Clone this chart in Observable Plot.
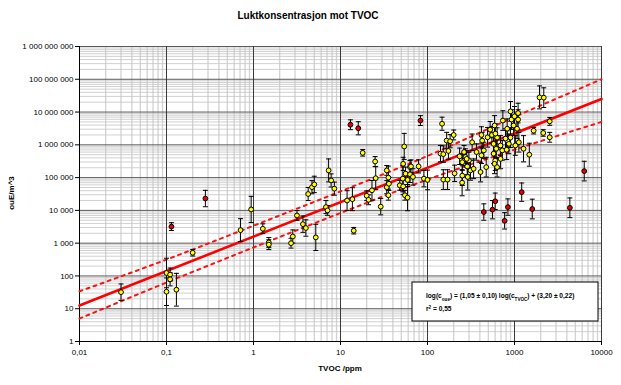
<!DOCTYPE html>
<html>
<head>
<meta charset="utf-8">
<script src="https://cdn.jsdelivr.net/npm/d3@7"></script>
<script src="https://cdn.jsdelivr.net/npm/@observablehq/plot@0.6"></script>
<style>
  html, body { margin: 0; padding: 0; background: #fff; }
</style>
</head>
<body>
<div id="chart"></div>
<script>
// ---- Data ----
const titleText = "Luktkonsentrasjon mot TVOC";
const xLabel = "TVOC /ppm";
const yLabel = "ouE/m^3";

const xTicks = [0.01, 0.1, 1, 10, 100, 1000, 10000];
const yTicks = [1, 10, 100, 1e3, 1e4, 1e5, 1e6, 1e7, 1e8, 1e9];

// yellow points: TVOC (ppm), odour (ouE/m3), error half-width (log10 units)
const yellowTVOC = [0.03,0.1,0.1,0.11,0.11,0.13,0.2,0.71,0.94,1.28,1.5,1.5,2.7,2.83,3.16,3.7,4.0,5.2,4.25,4.7,5.0,6.8,7.1,7.3,7.8,8.5,
  11.9,13.7,14.2,18,20,21,23,25,25.4,29,34,35.5,34,36,35.5,48,52,54,52.5,56,55,59,63,59,52.5,64.6,79,63,68,91,100,
  141,152,147,200,166,174,152,170,205,250,290,251,263,273,286,299,312,339,326,366,417,425,444,490,525,550,575,575,
  600,617,631,690,724,735,824,861,900,900,925,1000,1100,1100,824,788,590,603,977,1070,1023,1122,813,692,589,631,407,473,
  251,234,282,417,182,1940,2170,2540,1660,2140,2540,1270,1480];
const yellowOdour = [32,123,33,110,79,38,510,2500,10700,2750,1050,900,1000,1600,7000,3800,2900,1500,31600,51000,62000,12600,10000,166000,82000,46000,
  20000,22000,2400,570000,28000,21000,41000,310000,96000,13000,166000,100000,51000,65000,29000,58000,93000,890000,263000,132000,29000,24500,209000,85000,54000,220000,220000,126000,105000,93000,85000,
  540000,520000,4400000,2000000,1350000,650000,87000,87000,135000,70000,105000,295000,603000,424000,219000,334000,166000,186000,1200000,603000,2000000,1350000,676000,1700000,2900000,2000000,1070000,537000,
  331000,759000,1660000,955000,676000,5500000,1350000,1070000,1660000,10500000,5900000,7400000,5900000,9300000,3100000,1550000,3900000,2200000,3900000,3100000,955000,1200000,708000,372000,263000,209000,148000,209000,
  115000,447000,372000,479000,1290000,28000000,27500000,5200000,2700000,2300000,1700000,760000,500000];
const yellowErr = [0.25,0.45,0.42,0.2,0.2,0.5,0.1,0.35,0.4,0.15,0.15,0.15,0.15,0.2,0.15,0.25,0.25,0.4,0.2,0.2,0.25,0.2,0.15,0.35,0.2,0.2,
  0.3,0.35,0.1,0.1,0.15,0.15,0.3,0.15,0.35,0.25,0.15,0.35,0.2,0.2,0.15,0.15,0.4,0.4,0.2,0.2,0.15,0.4,0.2,0.2,0.25,0.2,0.2,0.25,0.25,0.25,0.3,
  0.25,0.25,0.2,0.15,0.25,0.25,0.3,0.3,0.25,0.4,0.4,0.25,0.2,0.25,0.25,0.25,0.3,0.3,0.25,0.25,0.25,0.25,0.25,0.3,0.25,0.25,0.3,0.3,
  0.3,0.3,0.3,0.3,0.3,0.3,0.3,0.3,0.3,0.3,0.3,0.3,0.3,0.3,0.3,0.3,0.3,0.3,0.3,0.3,0.3,0.3,0.3,0.3,0.3,0.3,0.3,0.3,
  0.3,0.25,0.25,0.25,0.2,0.35,0.3,0.12,0.1,0.1,0.15,0.4,0.35];

// red points
const redTVOC  = [0.114,0.28,13,16,83,444,558,600,770,840,1210,1600,4330,6330];
const redOdour = [3200,23000,4100000,3200000,5500000,8900,10500,19000,4800,12600,36000,11000,12000,158000];
const redErr   = [0.12,0.25,0.15,0.2,0.15,0.25,0.28,0.25,0.25,0.25,0.28,0.3,0.3,0.3];

// regression line and dashed band, read at the picture's positions
const fitTVOC = [0.01, 10000];
const fitOdour = [12.6, 25000000];
const bandTVOC = [0.01, 0.1, 1, 10, 100, 1000, 10000];
const bandUpper = [34, 316, 3400, 38000, 457000, 7100000, 100000000];
const bandLower = [5, 63, 740, 8300, 87000, 710000, 5000000];

const legendLine1 = ["log(c", "oue", ") = (1,05 \u00b1 0,10) log(c", "TVOC", ") + (3,20 \u00b1 0,22)"];
const legendLine2 = ["r", "2", " = 0,55"];

// ---- Build tables ----
const mk = (xs, ys, es) => xs.map((x, i) => ({x, y: ys[i], lo: ys[i] / Math.pow(10, es[i]), hi: ys[i] * Math.pow(10, es[i])}));
const yellow = mk(yellowTVOC, yellowOdour, yellowErr);
const red = mk(redTVOC, redOdour, redErr);
const fit = fitTVOC.map((x, i) => ({x, y: fitOdour[i]}));
const upper = bandTVOC.map((x, i) => ({x, y: bandUpper[i]}));
const lower = bandTVOC.map((x, i) => ({x, y: bandLower[i]}));

const minorOf = (ticks) => ticks.slice(0, -1).flatMap(t => [2,3,4,5,6,7,8,9].map(m => t * m));
const xMinor = minorOf(xTicks);
const yMinor = minorOf(yTicks);

const fmtY = v => d3.format(",")(v).replace(/,/g, " ");
const fmtX = v => String(v).replace(".", ",");

const cap = { draw(ctx) { ctx.moveTo(-2.5, 0); ctx.lineTo(2.5, 0); } };

function errMarks(data) {
  return [
    Plot.ruleX(data, {x: "x", y1: "lo", y2: "hi", stroke: "#000", strokeWidth: 1}),
    Plot.dot(data, {x: "x", y: "lo", symbol: cap, r: 3, stroke: "#000", fill: "none", strokeWidth: 1}),
    Plot.dot(data, {x: "x", y: "hi", symbol: cap, r: 3, stroke: "#000", fill: "none", strokeWidth: 1})
  ];
}

const svg = Plot.plot({
  width: 621,
  height: 385,
  marginLeft: 79,
  marginRight: 20,
  marginTop: 46,
  marginBottom: 44,
  style: {fontFamily: "Liberation Sans, Arial, sans-serif", fontSize: "8px", color: "#000", background: "#fff"},
  x: {type: "log", domain: [0.01, 10000]},
  y: {type: "log", domain: [1, 1e9]},
  marks: [
    Plot.ruleX(xMinor, {stroke: "#d2d2d2", strokeWidth: 1.3}),
    Plot.ruleY(yMinor, {stroke: "#c4c4c4", strokeWidth: 0.8}),
    Plot.ruleY(yTicks, {stroke: "#5a5a5a", strokeWidth: 1}),
    Plot.ruleX(xTicks, {stroke: "#3a3a3a", strokeWidth: 1}),
    Plot.ruleX([0.01], {stroke: "#000", strokeWidth: 1}),
    Plot.ruleY([1], {stroke: "#000", strokeWidth: 1}),
    Plot.axisX(xTicks, {tickFormat: fmtX, tickSize: 4, tickPadding: 4, label: null, fontSize: 8}),
    Plot.axisY(yTicks, {tickFormat: fmtY, tickSize: 4, tickPadding: 2, label: null, fontSize: 8}),
    Plot.line(upper, {x: "x", y: "y", stroke: "#ff1010", strokeWidth: 2, strokeDasharray: "3,4.5", curve: "monotone-x"}),
    Plot.line(lower, {x: "x", y: "y", stroke: "#ff1010", strokeWidth: 2, strokeDasharray: "3,4.5", curve: "monotone-x"}),
    Plot.line(fit, {x: "x", y: "y", stroke: "#ff0000", strokeWidth: 2.6}),
    ...errMarks(yellow),
    ...errMarks(red),
    Plot.dot(yellow, {x: "x", y: "y", r: 2.4, fill: "#ffff00", stroke: "#000", strokeWidth: 1}),
    Plot.dot(red, {x: "x", y: "y", r: 2.4, fill: "#e80000", stroke: "#000", strokeWidth: 1})
  ]
});

const s = d3.select(svg);
const font = "Liberation Sans, Arial, sans-serif";
s.append("text").attr("x", 308).attr("y", 19).attr("text-anchor", "middle")
  .attr("font-family", font).attr("font-size", 10).attr("font-weight", "bold").text(titleText);
s.append("text").attr("transform", "translate(14,193) rotate(-90)").attr("text-anchor", "middle")
  .attr("font-family", font).attr("font-size", 8).attr("font-weight", "bold").text(yLabel);
s.append("text").attr("x", 340).attr("y", 371).attr("text-anchor", "middle")
  .attr("font-family", font).attr("font-size", 8).attr("font-weight", "bold").text(xLabel);

const lg = s.append("g");
lg.append("rect").attr("x", 412).attr("y", 282).attr("width", 186).attr("height", 39)
  .attr("fill", "#fff").attr("stroke", "#000").attr("stroke-width", 1);
const t1 = lg.append("text").attr("x", 426).attr("y", 298).attr("text-anchor", "start").attr("font-family", font)
  .attr("font-size", 6.6).attr("font-weight", "bold");
legendLine1.forEach((p, i) => {
  const ts = t1.append("tspan").text(p);
  if (i % 2 === 1) ts.attr("font-size", 4.6).attr("baseline-shift", "sub");
});
const t2 = lg.append("text").attr("x", 426).attr("y", 311).attr("text-anchor", "start").attr("font-family", font)
  .attr("font-size", 6.6).attr("font-weight", "bold");
legendLine2.forEach((p, i) => {
  const ts = t2.append("tspan").text(p);
  if (i === 1) ts.attr("font-size", 4.6).attr("baseline-shift", "super");
});

document.getElementById("chart").appendChild(svg);
</script>
</body>
</html>
